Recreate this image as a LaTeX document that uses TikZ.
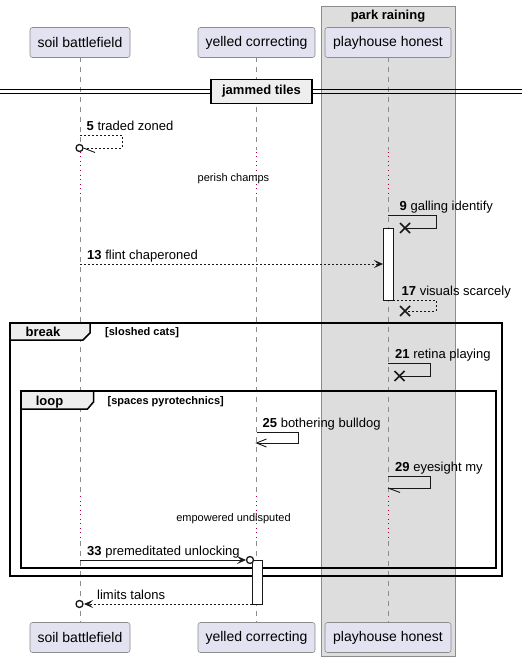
\documentclass[tikz,border=0pt]{standalone}
\usepackage{fontspec}
\setmainfont{Liberation Sans}
\usetikzlibrary{arrows.meta}
\definecolor{pfill}{HTML}{E2E2F0}
\definecolor{pline}{HTML}{8C8C8C}
\definecolor{boxfill}{HTML}{DDDDDD}
\definecolor{tabfill}{HTML}{EEEEEE}
\definecolor{delaycol}{HTML}{A80036}
\definecolor{ink}{HTML}{181818}
\begin{document}
\begin{tikzpicture}[x=1pt,y=-1pt,
  part/.style={draw=pline, fill=pfill, rounded corners=2.5pt, minimum height=30pt, inner sep=0pt, font=\fontsize{14}{16}\selectfont, line width=0.6pt},
  life/.style={draw=pline, line width=0.6pt, dash pattern=on 5pt off 5pt},
  delayline/.style={draw=delaycol, line width=0.8pt, dash pattern=on 1pt off 3.5pt},
  msg/.style={draw=ink, line width=0.9pt},
  dmsg/.style={msg, dash pattern=on 2pt off 2pt},
  mtext/.style={anchor=base west, inner sep=0pt, font=\fontsize{13}{15}\selectfont},
  dtext/.style={anchor=base, inner sep=0pt, font=\fontsize{11}{13}\selectfont},
  gtext/.style={anchor=base west, inner sep=0pt, font=\fontsize{11}{13}\selectfont\bfseries},
  ftext/.style={anchor=base, inner sep=0pt, font=\fontsize{13}{15}\selectfont\bfseries},
  actbar/.style={draw=ink, fill=white, line width=0.9pt},
  fragframe/.style={draw=black, line width=1.5pt},
  fragtab/.style={draw=black, fill=tabfill, line width=1.5pt},
  circ/.style={draw=ink, fill=white, line width=1.3pt},
  xmark/.style={draw=ink, line width=1.5pt},
  solidtip/.style={-{Stealth[length=9pt,width=8pt,inset=4pt]}},
]
\useasboundingbox (0,0) rectangle (528,663);
\fill[white] (0,0) rectangle (528,663);
% box group
\draw[draw=pline, fill=boxfill, line width=0.8pt] (321,6) rectangle (455,656);
\node[ftext] (grp) at (388,19.5) {park raining};
% participants
\node[part, minimum width=100pt] (s1) at (80,42.5) {soil battlefield};
\node[part, minimum width=117pt] (y1) at (256.5,42.5) {yelled correcting};
\node[part, minimum width=126pt] (p1) at (388,42.5) {playhouse honest};
\node[part, minimum width=100pt] (s2) at (80,637.5) {soil battlefield};
\node[part, minimum width=117pt] (y2) at (256.5,637.5) {yelled correcting};
\node[part, minimum width=126pt] (p2) at (388,637.5) {playhouse honest};
% lifelines
\foreach \x in {80,256.5,388}{
  \draw[life] (\x,57.5) -- (\x,150);
  \draw[delayline] (\x,152) -- (\x,197);
  \draw[life] (\x,197) -- (\x,496);
  \draw[delayline] (\x,496) -- (\x,541);
  \draw[life] (\x,541) -- (\x,622);
}
% divider
\draw[black, line width=1pt] (0,90) -- (522,90) (0,94) -- (522,94);
\node[draw=black, line width=1.8pt, fill=tabfill, minimum width=101pt, minimum height=24pt, inner sep=0pt, font=\fontsize{13}{15}\selectfont\bfseries] (div) at (261.5,91.5) {jammed tiles};
% msg 5
\draw[dmsg] (80,135) -- (122,135) -- (122,148) -- (83.5,148);
\draw[msg] (83.5,148) -- (95,152.5);
\draw[circ] (79.5,148) circle (3.5);
\node[mtext] (m5) at (86.5,130.5) {\textbf{5} traded zoned};
% delay 1
\node[dtext] (d1) at (233.5,181) {perish champs};
% msg 9
\draw[msg] (388,215) -- (436,215) -- (436,228) -- (405,228);
\draw[xmark] (400,223) -- (410,233) (400,233) -- (410,223);
\node[mtext] (m9) at (399.5,210.5) {\textbf{9} galling identify};
% activation playhouse
\draw[actbar] (383,228) rectangle (393,300);
% msg 13
\draw[dmsg, solidtip] (80,264) -- (383,264);
\node[mtext] (m13) at (87,259.5) {\textbf{13} flint chaperoned};
% msg 17
\draw[dmsg] (393,300) -- (436,300) -- (436,311) -- (405,311);
\draw[xmark] (400,306) -- (410,316) (400,316) -- (410,306);
\node[mtext] (m17) at (401.5,295.5) {\textbf{17} visuals scarcely};
% break frame
\draw[fragframe] (10,323) rectangle (502,576);
\draw[fragtab] (10,323) -- (90,323) -- (90,333) -- (83,340) -- (10,340) -- cycle;
\node[ftext] (fb) at (43,336.5) {break};
\node[gtext] (gb) at (105,335) {[sloshed cats]};
% msg 21
\draw[msg] (388,363) -- (430,363) -- (430,376) -- (400,376);
\draw[xmark] (394.5,371) -- (404.5,381) (394.5,381) -- (404.5,371);
\node[mtext] (m21) at (395,358.5) {\textbf{21} retina playing};
% loop frame
\draw[fragframe] (21,391) rectangle (496,568);
\draw[fragtab] (21,391) -- (93.5,391) -- (93.5,402) -- (87.5,409) -- (21,409) -- cycle;
\node[ftext] (fl) at (49.5,405.5) {loop};
\node[gtext] (gl) at (107.5,404) {[spaces pyrotechnics]};
% msg 25
\draw[msg] (256.5,432) -- (298,432) -- (298,443) -- (256.5,443);
\draw[msg] (266.5,439) -- (256.5,443) -- (266.5,447);
\node[mtext] (m25) at (262.5,427.5) {\textbf{25} bothering bulldog};
% msg 29
\draw[msg] (388,476) -- (430,476) -- (430,488) -- (388,488);
\draw[msg] (388,488) -- (400,492.5);
\node[mtext] (m29) at (395,471.5) {\textbf{29} eyesight my};
% delay 2
\node[dtext] (d2) at (233.5,521.5) {empowered undisputed};
% msg 33
\draw[msg, solidtip] (80,560) -- (246,560);
\draw[actbar] (252,560) rectangle (262,604);
\draw[circ] (250,560) circle (3.5);
\node[mtext] (m33) at (87,555.5) {\textbf{33} premeditated unlocking};
% return
\draw[dmsg, solidtip] (252,604) -- (84,604);
\draw[circ] (79.5,604) circle (3.5);
\node[mtext] (mr) at (97,599.5) {limits talons};
\end{tikzpicture}
\end{document}
